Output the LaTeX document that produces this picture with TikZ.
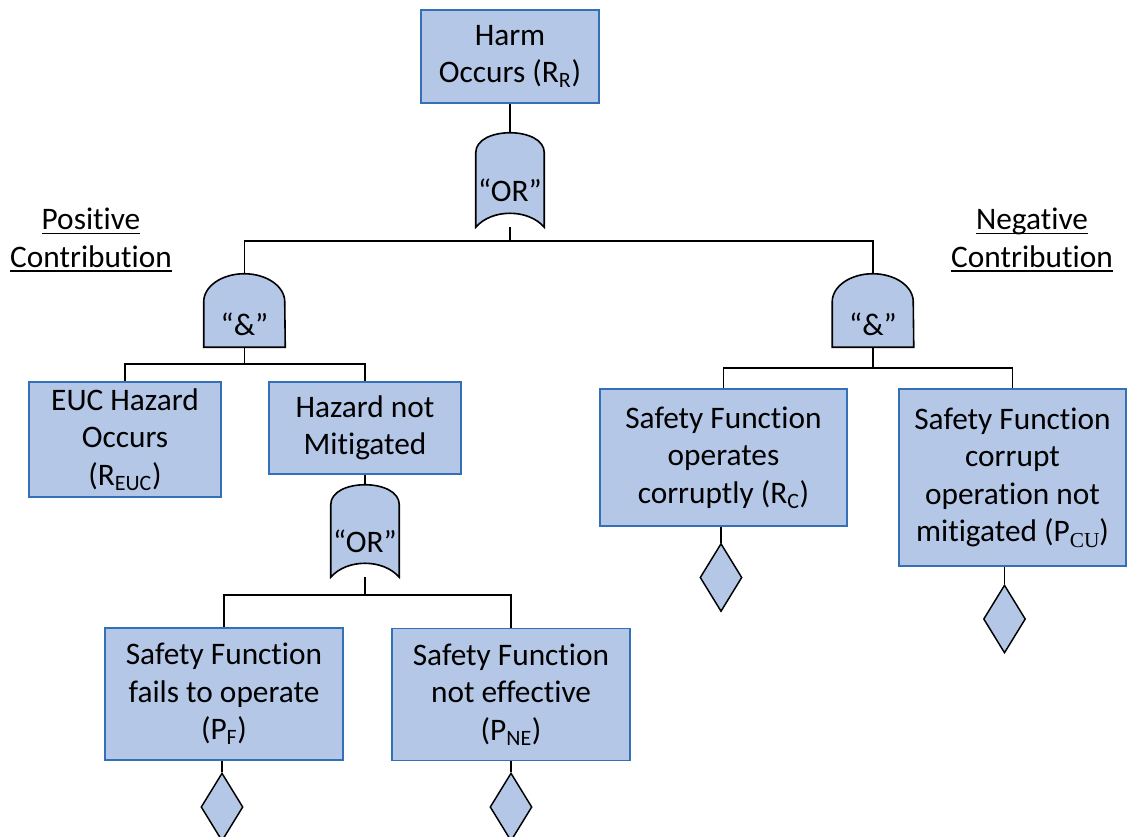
\documentclass[tikz,border=0pt]{standalone}
\usepackage{fontspec}
\setmainfont{Carlito}[Ligatures={TeX,NoCommon}]
\newfontfamily\serifcu{Liberation Serif}
\usetikzlibrary{shapes.geometric}
\definecolor{boxfill}{RGB}{180,199,231}
\definecolor{boxline}{RGB}{52,112,184}
\pgfdeclarelayer{lines}
\pgfdeclarelayer{gates}
\pgfsetlayers{lines,gates,main}
\newcommand\myul[1]{\setbox0\hbox{#1}\leavevmode\rlap{\rule[-3pt]{\wd0}{1.1pt}}\box0}
\begin{document}
\begin{tikzpicture}[x=0.75pt,y=-0.75pt,
  every node/.style={font=\fontsize{23.5}{28.2}\selectfont, align=center},
  evbox/.style={draw=boxline, fill=boxfill, line width=1.4pt, inner sep=0pt},
  gatelabel/.style={inner sep=0pt},
  gateshape/.style={draw=black, fill=boxfill, line width=1.2pt},
  conn/.style={draw=black, line width=1.2pt},
  leaf/.style={shape=diamond, draw=black, fill=boxfill, line width=1.1pt, minimum width=31.5pt, minimum height=51pt, inner sep=0pt},
  ]
\useasboundingbox (0,0) rectangle (1128,836);

% event boxes
\node[evbox, minimum width=133.5pt, minimum height=69.75pt] (top) at (510,56.5) {Harm\\Occurs (R\textsubscript{R})};
\node[evbox, minimum width=144pt, minimum height=86.25pt] (euc) at (125,439.5) {EUC Hazard\\Occurs\\(R\textsubscript{EUC})};
\node[evbox, minimum width=144pt, minimum height=69pt] (haz) at (365,428) {Hazard not\\Mitigated};
\node[evbox, minimum width=178.5pt, minimum height=99pt] (sff) at (224,694) {Safety Function\\fails to operate\\(P\textsubscript{F})};
\node[evbox, minimum width=178.5pt, minimum height=99pt] (sfne) at (511,694.5) {Safety Function\\not effective\\(P\textsubscript{NE})};
\node[evbox, minimum width=185.25pt, minimum height=102.75pt] (sfoc) at (723.5,457.5) {Safety Function\\operates\\corruptly (R\textsubscript{C})};
\node[evbox, minimum width=170.25pt, minimum height=132.75pt] (sfcu) at (1012.5,477.5) {Safety Function\\corrupt\\operation not\\mitigated (P\raisebox{-4pt}{\fontsize{16}{16}\selectfont\serifcu CU})};

% gate labels
\node[gatelabel, minimum width=51pt, minimum height=55.5pt] (or1) at (510,190) {“OR”};
\node[gatelabel, minimum width=51pt, minimum height=54pt] (or2) at (365,541) {“OR”};
\node[gatelabel, minimum width=60.75pt, minimum height=33.75pt] (and1) at (244.5,324.5) {“\&”};
\node[gatelabel, minimum width=60.75pt, minimum height=33.75pt] (and2) at (873,324.5) {“\&”};

% leaves
\node[leaf] (d1) at (222,807) {};
\node[leaf] (d2) at (511,807) {};
\node[leaf] (d3) at (721,577.5) {};
\node[leaf] (d4) at (1004.5,619) {};

% contribution labels
\node (pos) at (91,240) {\myul{Positive}\\\myul{Contribution}};
\node (neg) at (1032,240) {\myul{Negative}\\\myul{Contribution}};

% junctions
\coordinate (j1) at (510,241);
\coordinate (j2) at (244.5,364);
\coordinate (j3) at (873,368);
\coordinate (j4) at (365,595);

\begin{pgfonlayer}{gates}
\foreach \g in {or1,or2}{
  \draw[gateshape] (\g.south west) -- (\g.north west)
    .. controls ([yshift=20pt]\g.north west) and ([yshift=20pt]\g.north east) .. (\g.north east)
    -- (\g.south east)
    .. controls ([xshift=-12pt,yshift=14pt]\g.south east) and ([xshift=12pt,yshift=14pt]\g.south west) .. cycle;
}
\foreach \g in {and1,and2}{
  \draw[gateshape] (\g.south west) -- (\g.north west)
    arc[start angle=180, end angle=0, x radius=30.375pt, y radius=21pt]
    -- (\g.south east) -- cycle;
}
\end{pgfonlayer}

\begin{pgfonlayer}{lines}
\draw[conn] (top.south) -- (or1.north);
\draw[conn] (or1.south) -- (j1);
\draw[conn] (j1) -| (and1.north);
\draw[conn] (j1) -| (and2.north);
\draw[conn] (and1.south) -- (j2);
\draw[conn] (j2) -| (euc.north);
\draw[conn] (j2) -| (haz.north);
\draw[conn] (haz.south) -- (or2.north);
\draw[conn] (or2.south) -- (j4);
\draw[conn] (j4) -| (sff.north);
\draw[conn] (j4) -| (sfne.north);
\draw[conn] (and2.south) -- (j3);
\draw[conn] (j3) -| (sfoc.north);
\draw[conn] (j3) -| (sfcu.north);
\draw[conn] (sff.south -| d1.north) -- (d1.north);
\draw[conn] (sfne.south -| d2.north) -- (d2.north);
\draw[conn] (sfoc.south -| d3.north) -- (d3.north);
\draw[conn] (sfcu.south -| d4.north) -- (d4.north);
\end{pgfonlayer}
\end{tikzpicture}
\end{document}
